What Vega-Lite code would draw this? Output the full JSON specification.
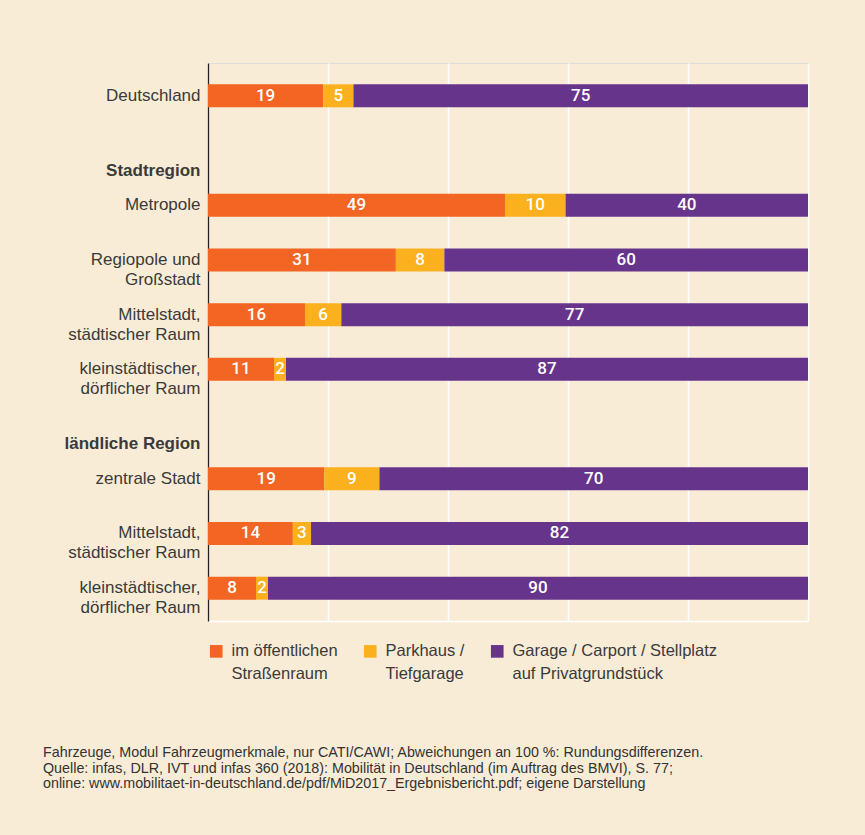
{
  "$schema": "https://vega.github.io/schema/vega-lite/v6.json",
  "autosize": "none",
  "width": 600,
  "height": 558,
  "padding": {"left": 208, "top": 63, "right": 57, "bottom": 214},
  "background": "#f8ecd6",
  "config": {"style": {"guide-label": {"lineHeight": 23}}},
  "title": {
    "text": ["Fahrzeuge, Modul Fahrzeugmerkmale, nur CATI/CAWI; Abweichungen an 100 %: Rundungsdifferenzen.", "Quelle: infas, DLR, IVT und infas 360 (2018): Mobilität in Deutschland (im Auftrag des BMVI), S. 77;", "online: www.mobilitaet-in-deutschland.de/pdf/MiD2017_Ergebnisbericht.pdf; eigene Darstellung"],
    "orient": "bottom",
    "anchor": "start",
    "frame": "group",
    "dx": -165,
    "offset": 63,
    "font": "Liberation Sans",
    "fontSize": 14.3,
    "fontWeight": "normal",
    "color": "#333333",
    "lineHeight": 15.5
  },
  "data": {
    "values": [
      {"row": "Deutschland", "kat": "im öffentlichen|Straßenraum", "wert": 19},
      {"row": "Deutschland", "kat": "Parkhaus /|Tiefgarage", "wert": 5},
      {"row": "Deutschland", "kat": "Garage / Carport / Stellplatz|auf Privatgrundstück", "wert": 75},
      {"row": "Metropole", "kat": "im öffentlichen|Straßenraum", "wert": 49},
      {"row": "Metropole", "kat": "Parkhaus /|Tiefgarage", "wert": 10},
      {"row": "Metropole", "kat": "Garage / Carport / Stellplatz|auf Privatgrundstück", "wert": 40},
      {"row": "Regiopole und|Großstadt", "kat": "im öffentlichen|Straßenraum", "wert": 31},
      {"row": "Regiopole und|Großstadt", "kat": "Parkhaus /|Tiefgarage", "wert": 8},
      {"row": "Regiopole und|Großstadt", "kat": "Garage / Carport / Stellplatz|auf Privatgrundstück", "wert": 60},
      {"row": "Mittelstadt,|städtischer Raum", "kat": "im öffentlichen|Straßenraum", "wert": 16},
      {"row": "Mittelstadt,|städtischer Raum", "kat": "Parkhaus /|Tiefgarage", "wert": 6},
      {"row": "Mittelstadt,|städtischer Raum", "kat": "Garage / Carport / Stellplatz|auf Privatgrundstück", "wert": 77},
      {"row": "kleinstädtischer,|dörflicher Raum", "kat": "im öffentlichen|Straßenraum", "wert": 11},
      {"row": "kleinstädtischer,|dörflicher Raum", "kat": "Parkhaus /|Tiefgarage", "wert": 2},
      {"row": "kleinstädtischer,|dörflicher Raum", "kat": "Garage / Carport / Stellplatz|auf Privatgrundstück", "wert": 87},
      {"row": "zentrale Stadt", "kat": "im öffentlichen|Straßenraum", "wert": 19},
      {"row": "zentrale Stadt", "kat": "Parkhaus /|Tiefgarage", "wert": 9},
      {"row": "zentrale Stadt", "kat": "Garage / Carport / Stellplatz|auf Privatgrundstück", "wert": 70},
      {"row": "Mittelstadt,|städtischer Raum|2", "kat": "im öffentlichen|Straßenraum", "wert": 14},
      {"row": "Mittelstadt,|städtischer Raum|2", "kat": "Parkhaus /|Tiefgarage", "wert": 3},
      {"row": "Mittelstadt,|städtischer Raum|2", "kat": "Garage / Carport / Stellplatz|auf Privatgrundstück", "wert": 82},
      {"row": "kleinstädtischer,|dörflicher Raum|2", "kat": "im öffentlichen|Straßenraum", "wert": 8},
      {"row": "kleinstädtischer,|dörflicher Raum|2", "kat": "Parkhaus /|Tiefgarage", "wert": 2},
      {"row": "kleinstädtischer,|dörflicher Raum|2", "kat": "Garage / Carport / Stellplatz|auf Privatgrundstück", "wert": 90}
    ]
  },
  "encoding": {
    "y": {
      "field": "row",
      "type": "nominal",
      "sort": null,
      "title": null,
      "scale": {
        "domain": ["Deutschland", "Stadtregion", "Metropole", "Regiopole und|Großstadt", "Mittelstadt,|städtischer Raum", "kleinstädtischer,|dörflicher Raum", "ländliche Region", "zentrale Stadt", "Mittelstadt,|städtischer Raum|2", "kleinstädtischer,|dörflicher Raum|2"],
        "paddingInner": 0.58,
        "paddingOuter": 0.39
      },
      "axis": {
        "labelExpr": "slice(split(datum.value, '|'), 0, 2)",
        "labelFont": "Liberation Sans",
        "labelFontSize": 17,
        "labelColor": "#3a3a3a",
        "labelLineHeight": 20,
        "labelPadding": 8,
        "labelLimit": 300,
        "labelFontWeight": {"condition": {"test": "datum.value == 'Stadtregion' || datum.value == 'ländliche Region'", "value": "bold"}, "value": "normal"},
        "labelOffset": {"condition": {"test": "datum.value == 'Stadtregion' || datum.value == 'ländliche Region'", "value": 20}, "value": 0},
        "ticks": false,
        "grid": false,
        "domainColor": "#222222",
        "domainWidth": 1.3
      }
    },
    "order": {"field": "kat", "sort": "descending"}
  },
  "layer": [
    {
      "mark": {"type": "bar"},
      "encoding": {
        "x": {
          "field": "wert",
          "type": "quantitative",
          "stack": "normalize",
          "scale": {"domain": [0, 1], "nice": false},
          "axis": {
            "values": [0, 0.2, 0.4, 0.6, 0.8, 1],
            "labels": false,
            "ticks": false,
            "title": null,
            "grid": true,
            "gridColor": "#ffffff",
            "gridWidth": 1.5,
            "gridOpacity": 1,
            "domainColor": "#ffffff",
            "domainWidth": 1.5
          }
        },
        "color": {
          "field": "kat",
          "type": "nominal",
          "scale": {
            "domain": ["im öffentlichen|Straßenraum", "Parkhaus /|Tiefgarage", "Garage / Carport / Stellplatz|auf Privatgrundstück"],
            "range": ["#f26522", "#fbb01e", "#67348c"]
          },
          "legend": {
            "orient": "none",
            "legendX": 0,
            "legendY": 580,
            "direction": "horizontal",
            "columns": 3,
            "title": null,
            "labelExpr": "split(datum.value, '|')",
            "labelFont": "Liberation Sans",
            "labelFontSize": 16.5,
            "labelColor": "#3a3a3a",
            "labelLimit": 400,
            "labelOffset": 7,
            "columnPadding": 24,
            "symbolType": "square",
            "symbolSize": 160,
            "symbolStrokeWidth": 0,
            "symbolOpacity": 1
          }
        }
      }
    },
    {
      "mark": {"type": "text", "color": "#ffffff", "font": "Roboto", "fontSize": 17, "fontWeight": 500, "baseline": "middle", "align": "center"},
      "encoding": {
        "x": {"field": "wert", "type": "quantitative", "stack": "normalize", "bandPosition": 0.5},
        "detail": {"field": "kat"},
        "text": {"field": "wert", "type": "quantitative"}
      }
    }
  ]
}
